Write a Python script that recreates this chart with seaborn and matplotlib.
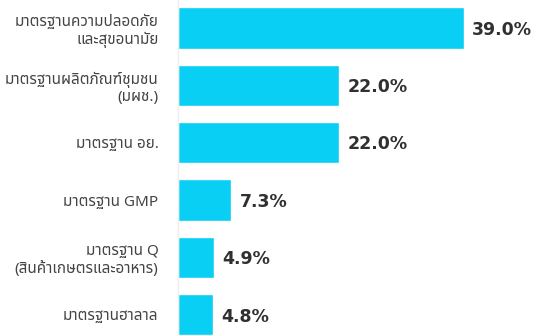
import matplotlib
matplotlib.use("Agg")
import matplotlib.pyplot as plt
import seaborn as sns
import pandas as pd

categories = [
    "มาตรฐานความปลอดภัย\nและสุขอนามัย",
    "มาตรฐานผลิตภัณฑ์ชุมชน\n(มผช.)",
    "มาตรฐาน อย.",
    "มาตรฐาน GMP",
    "มาตรฐาน Q\n(สินค้าเกษตรและอาหาร)",
    "มาตรฐานฮาลาล",
]
values = [39.0, 22.0, 22.0, 7.3, 4.9, 4.8]
value_labels = ["39.0%", "22.0%", "22.0%", "7.3%", "4.9%", "4.8%"]

sns.set_theme(style="white")
plt.rcParams["font.family"] = ["Noto Sans Thai", "Noto Sans", "DejaVu Sans"]

df = pd.DataFrame({"category": categories, "value": values})

fig = plt.figure(figsize=(5.37, 3.36), dpi=100)
ax = fig.add_axes([178 / 537, 0.0, 1 - 178 / 537, 1.0])

sns.barplot(data=df, x="value", y="category", orient="h", color="#08CFF3",
            saturation=1, width=0.72, ax=ax)

ax.set_xlim(0, 49)
ax.set_ylim(5.37, -0.49)

for i, (v, lab) in enumerate(zip(values, value_labels)):
    ax.text(v + 1.1, i + 0.03, lab, va="center", ha="left", fontsize=12.5,
            fontweight="bold", color="#303030", family=["DejaVu Sans"])

ax.set_xlabel("")
ax.set_ylabel("")
ax.set_xticks([])
ax.tick_params(axis="y", length=0, pad=14, labelsize=11, labelcolor="#444444")
for lbl in ax.get_yticklabels():
    lbl.set_horizontalalignment("right")
    lbl.set_multialignment("right")
    lbl.set_linespacing(1.2)

for side in ["top", "right", "bottom"]:
    ax.spines[side].set_visible(False)
ax.spines["left"].set_color("#eeeeee")
ax.spines["left"].set_linewidth(1)

fig.savefig("out.png", dpi=100)
